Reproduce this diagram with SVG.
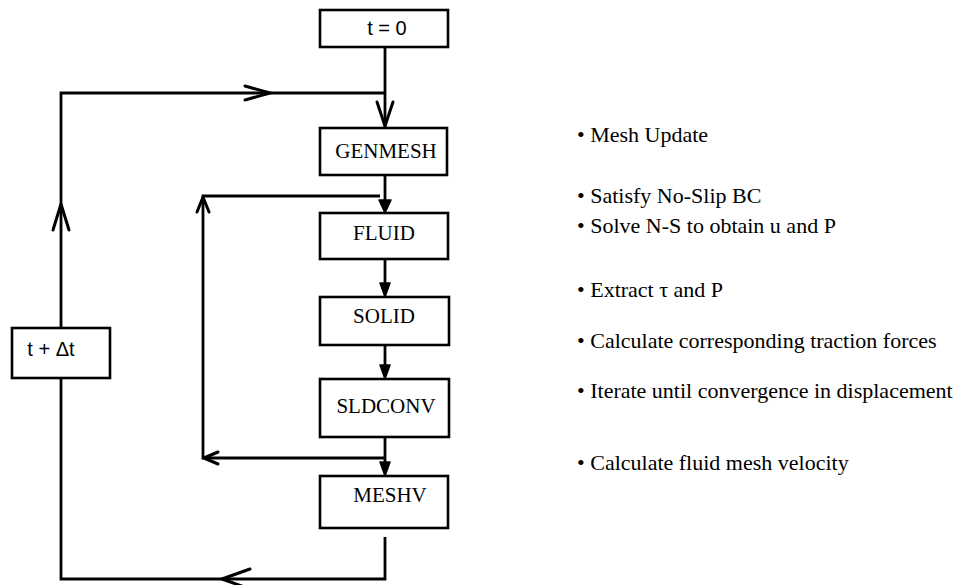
<svg xmlns="http://www.w3.org/2000/svg" width="961" height="585" viewBox="0 0 961 585">
<style>
.box{fill:#fff;stroke:#000;stroke-width:2.6}
.ln{fill:none;stroke:#000;stroke-width:2.8;stroke-linejoin:miter}
.ah{fill:none;stroke:#000;stroke-width:3;stroke-linecap:round;stroke-linejoin:round}
.fh{fill:#000;stroke:#000;stroke-width:1.5;stroke-linejoin:round}
.lbl{font-family:"Liberation Serif","Times New Roman",serif;font-size:21px;fill:#000;text-anchor:middle}
.sans{font-family:"Liberation Sans",Arial,sans-serif;font-size:20px;fill:#000;text-anchor:middle}
.note{font-family:"Liberation Serif","Times New Roman",serif;font-size:22px;fill:#000}
</style>
<rect width="961" height="585" fill="#fff"/>
<g id="connectors">
<!-- t=0 to GENMESH -->
<path class="ln" d="M385,47 V127"/>
<path class="ah" d="M377,102 L385,126 L393,102"/>
<!-- outer loop -->
<path class="ln" d="M385,537 V579 H61 V93 H385"/>
<path class="ah" d="M245,86 L270,93 L245,100"/>
<path class="ah" d="M53,230 L61,204 L69,230"/>
<path class="ah" d="M250,569 L222,579 L250,589"/>
<!-- GENMESH to FLUID -->
<path class="ln" d="M385,175 V205"/>
<!-- inner loop -->
<path class="ln" d="M385,458 H203 V196 H380"/>
<path class="ah" d="M197,212 L203,197 L209,212"/>
<path class="ah" d="M218,452 L204,458 L218,464"/>
<path class="fh" d="M379,200 L385,213 L391,200 Z"/>
<!-- FLUID to SOLID -->
<path class="ln" d="M385,259 V294"/>
<path class="fh" d="M380,283 L385,297 L390,283 Z"/>
<!-- SOLID to SLDCONV -->
<path class="ln" d="M385,345 V376"/>
<path class="fh" d="M380,365 L385,379 L390,365 Z"/>
<!-- SLDCONV to MESHV -->
<path class="ln" d="M385,437 V473"/>
<path class="fh" d="M380,462 L385,476 L390,462 Z"/>
</g>
<g id="t0"><rect class="box" x="320" y="10" width="128" height="37"/><text class="sans" x="387" y="35">t = 0</text></g>
<g id="genmesh"><rect class="box" x="320" y="128" width="127" height="47"/><text class="lbl" x="386" y="158">GENMESH</text></g>
<g id="fluid"><rect class="box" x="320" y="213" width="128" height="46"/><text class="lbl" x="384" y="240">FLUID</text></g>
<g id="solid"><rect class="box" x="320" y="297" width="129" height="48"/><text class="lbl" x="384" y="323">SOLID</text></g>
<g id="sldconv"><rect class="box" x="320" y="379" width="129" height="58"/><text class="lbl" x="386" y="413">SLDCONV</text></g>
<g id="meshv"><rect class="box" x="320" y="476" width="128" height="52"/><text class="lbl" x="390" y="502">MESHV</text></g>
<g id="tdt"><rect class="box" x="12" y="328" width="98" height="50"/><text class="sans" x="51" y="356">t + Δt</text></g>
<g id="notes">
<text class="note" x="577" y="142">• Mesh Update</text>
<text class="note" x="577" y="203">• Satisfy No-Slip BC</text>
<text class="note" x="577" y="233">• Solve N-S to obtain u and P</text>
<text class="note" x="577" y="297">• Extract τ and P</text>
<text class="note" x="577" y="348">• Calculate corresponding traction forces</text>
<text class="note" x="577" y="398">• Iterate until convergence in displacement</text>
<text class="note" x="577" y="470">• Calculate fluid mesh velocity</text>
</g>
</svg>
